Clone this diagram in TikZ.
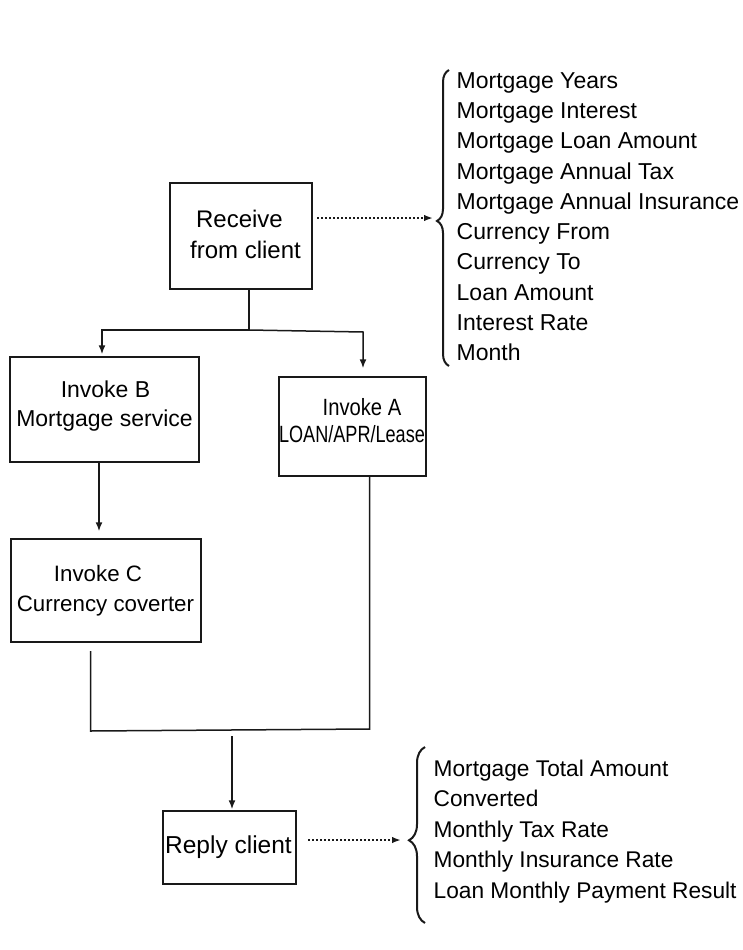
\documentclass[tikz,border=0pt]{standalone}
\usepackage{fontspec}
\setmainfont{Liberation Sans}
\newfontfamily\fs{Liberation Sans}
\newfontfamily\fa[FakeStretch=0.86]{Liberation Sans}
\newfontfamily\fl[FakeStretch=0.77]{Liberation Sans}
\usetikzlibrary{arrows.meta,decorations.pathreplacing}
\definecolor{ink}{RGB}{25,25,25}
\begin{document}
\begin{tikzpicture}[x=1pt,y=-1pt,
  box/.style={draw=ink, line width=1.5pt, rectangle, inner sep=0pt},
  txt/.style={anchor=base, inner sep=0pt, text=black},
  lst/.style={anchor=base west, inner sep=0pt, text=black},
  conn/.style={draw=ink, line width=1.5pt},
  arr/.style={conn, -{Latex[length=9pt,width=7pt]}},
  dots/.style={draw=ink, line width=2pt, dash pattern=on 1.6pt off 2.4pt, -{Latex[length=9pt,width=6.5pt]}},
  brc/.style={draw=ink, line width=2pt, decorate}
]
\useasboundingbox (0,0) rectangle (743,950);

% boxes
\node[box, minimum width=142pt, minimum height=106pt] (recv) at (241,236) {};
\node[box, minimum width=189pt, minimum height=105pt] (B) at (104.5,409.5) {};
\node[box, minimum width=190pt, minimum height=103pt] (C) at (106,590.5) {};
\node[box, minimum width=147pt, minimum height=99pt] (A) at (352.5,426.5) {};
\node[box, minimum width=133pt, minimum height=73pt] (R) at (229.5,847.5) {};

% box texts
\node[txt, font=\fs\fontsize{24}{28}\selectfont] (recv1) at (239.5,227.3) {Receive};
\node[txt, font=\fs\fontsize{24}{28}\selectfont] (recv2) at (245.5,258.3) {from client};
\node[txt, font=\fs\fontsize{23}{27}\selectfont] (B1) at (105.5,397.7) {Invoke B};
\node[txt, font=\fs\fontsize{23}{27}\selectfont] (B2) at (104.5,426.7) {Mortgage service};
\node[txt, font=\fs\fontsize{22.3}{26}\selectfont] (C1) at (98,581.7) {Invoke C};
\node[txt, font=\fs\fontsize{22.3}{26}\selectfont] (C2) at (105.5,611.7) {Currency coverter};
\node[txt, font=\fa\fontsize{23.5}{27}\selectfont] (A1) at (362,415.7) {Invoke A};
\node[txt, font=\fl\fontsize{23.5}{27}\selectfont] (A2) at (352,442.3) {LOAN/APR/Lease};
\node[txt, font=\fs\fontsize{24.5}{28}\selectfont] (R1) at (228.5,853.3) {Reply client};

% input list
\foreach \t [count=\i] in {Mortgage Years,Mortgage Interest,Mortgage Loan Amount,Mortgage Annual Tax,Mortgage Annual Insurance,Currency From,Currency To,Loan Amount,Interest Rate,Month}
  \node[lst, font=\fs\fontsize{23}{27}\selectfont] (in\i) at (456.5,{88.3+30.27*(\i-1)}) {\t};

% output list
\foreach \t [count=\i] in {Mortgage Total Amount,Converted,Monthly Tax Rate,Monthly Insurance Rate,Loan Monthly Payment Result}
  \node[lst, font=\fs\fontsize{22.7}{27}\selectfont] (out\i) at (433.5,{776+30.5*(\i-1)}) {\t};

% braces
\draw[brc, decoration={brace, amplitude=12pt, aspect=0.49}] (449,366) -- (449,70);
\draw[brc, decoration={brace, amplitude=16pt, aspect=0.47}] (425,923) -- (425,747);

% coordinates
\coordinate (j) at (249,330);
\coordinate (bl) at (102,330);
\coordinate (br) at (363,332);
\coordinate (xc) at (99,0);
\coordinate (ja) at (369.5,729);
\coordinate (jc) at (90.5,731);
\coordinate (cc) at (90.5,651);
\coordinate (rm) at (232,736);
\coordinate (d1s) at (317,218);
\coordinate (d1e) at (433,218);
\coordinate (d2s) at (308,840);
\coordinate (d2e) at (401,840);

% connectors
\draw[conn] (recv.south -| j) -- (j);
\draw[arr, shorten >=2pt] (j) -- (bl) -- (bl |- B.north);
\draw[arr, shorten >=8pt] (j) -- (br) -- (br |- A.north);
\draw[arr, shorten >=7pt] (B.south -| xc) -- (C.north -| xc);
\draw[conn] (A.south -| ja) -- (ja) -- (jc) -- (cc);
\draw[arr, shorten >=1pt] (rm) -- (R.north -| rm);

% dotted arrows
\draw[dots] (d1s) -- (d1e);
\draw[dots] (d2s) -- (d2e);
\end{tikzpicture}
\end{document}
